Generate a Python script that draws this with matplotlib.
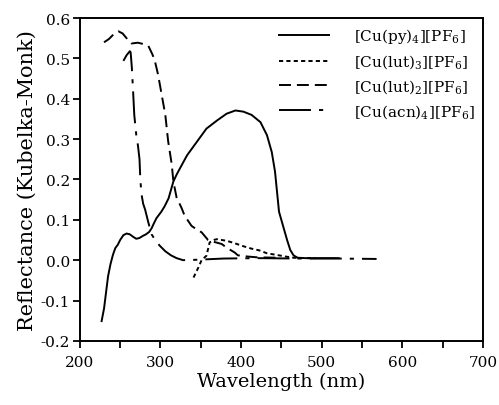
import matplotlib
matplotlib.use("Agg")
import matplotlib.pyplot as plt
from matplotlib.ticker import MultipleLocator, FormatStrFormatter

plt.rcParams['font.family'] = ['DejaVu Serif']
plt.rcParams['mathtext.fontset'] = 'dejavuserif'
plt.rcParams['axes.unicode_minus'] = False
plt.rcParams['lines.scale_dashes'] = False

# [Cu(py)4][PF6]
py_x = [227, 230, 235, 238, 241, 244, 247, 250, 254, 258, 262, 266, 270, 274, 278, 282,
        286, 289, 292, 295, 298, 301, 305, 310, 316, 320, 324, 333, 345, 357, 370, 382,
        393, 403, 413, 424, 432, 438, 442, 445, 447, 452, 457, 461, 465, 470, 480, 500, 521]
py_y = [-0.151, -0.12, -0.04, -0.01, 0.013, 0.03, 0.038, 0.05, 0.062, 0.066, 0.064, 0.058,
        0.053, 0.055, 0.06, 0.064, 0.07, 0.079, 0.092, 0.104, 0.112, 0.12, 0.133, 0.153,
        0.195, 0.212, 0.227, 0.26, 0.293, 0.326, 0.346, 0.363, 0.371, 0.368, 0.36, 0.342,
        0.31, 0.268, 0.22, 0.16, 0.12, 0.085, 0.05, 0.025, 0.012, 0.006, 0.005, 0.005, 0.005]

# [Cu(lut)3][PF6]
lut3_x = [341, 347, 351, 357, 361, 366, 370, 376, 382, 392, 402, 412, 423, 432, 444, 455, 465, 480, 492]
lut3_y = [-0.043, -0.018, 0.0, 0.011, 0.044, 0.05, 0.052, 0.05, 0.048, 0.042, 0.035, 0.029,
          0.024, 0.017, 0.013, 0.009, 0.006, 0.005, 0.005]

# [Cu(lut)2][PF6]
lut2_x = [230, 236, 242, 248, 253, 258, 264, 272, 278, 285, 290, 293, 297, 301.5, 306, 309.5,
          314, 316, 320, 326, 330, 338.5, 345, 351, 359, 367, 376, 382, 392, 396, 408, 420, 448]
lut2_y = [0.54, 0.548, 0.56, 0.567, 0.562, 0.55, 0.537, 0.539, 0.536, 0.531, 0.51, 0.494,
          0.46, 0.41, 0.36, 0.295, 0.237, 0.195, 0.155, 0.13, 0.11, 0.085, 0.076, 0.069,
          0.05, 0.045, 0.04, 0.031, 0.019, 0.012, 0.009, 0.007, 0.006]

# [Cu(acn)4][PF6]
acn_x = [254, 258, 262, 263, 264.5, 266, 267.5, 270, 272, 274, 275, 276.5, 278.5, 281, 285,
         289, 294, 299, 306, 313, 320, 328, 345, 378, 420, 470, 520, 568]
acn_y = [0.494, 0.508, 0.518, 0.515, 0.477, 0.42, 0.36, 0.31, 0.285, 0.25, 0.2, 0.163, 0.14,
         0.125, 0.093, 0.064, 0.048, 0.036, 0.022, 0.012, 0.005, 0.0, 0.001, 0.004, 0.005,
         0.004, 0.004, 0.003]

labels = [r'[Cu(py)$_4$][PF$_6$]', r'[Cu(lut)$_3$][PF$_6$]',
          r'[Cu(lut)$_2$][PF$_6$]', r'[Cu(acn)$_4$][PF$_6$]']

fig = plt.figure(figsize=(4.99, 4.06), dpi=100)
ax = fig.add_axes([0.160, 0.158, 0.808, 0.795])

lw = 1.4
ax.plot(py_x, py_y, color='black', lw=lw, label=labels[0])
ax.plot(lut3_x, lut3_y, color='black', lw=lw, dashes=(3, 2.3), label=labels[1])
ax.plot(lut2_x, lut2_y, color='black', lw=lw, dashes=(8.6, 4.3), label=labels[2])
ax.plot(acn_x, acn_y, color='black', lw=lw, dashes=(23, 5.8, 3, 5.8), label=labels[3])

ax.set_xlim(200, 700)
ax.set_ylim(-0.2, 0.6)
ax.xaxis.set_major_locator(MultipleLocator(100))
ax.xaxis.set_minor_locator(MultipleLocator(50))
ax.yaxis.set_major_locator(MultipleLocator(0.1))
ax.yaxis.set_major_formatter(FormatStrFormatter('%.1f'))
ax.tick_params(which='both', direction='out', length=5, width=1.3, labelsize=11,
               top=False, right=False)
ax.tick_params(axis='x', pad=5)
ax.tick_params(axis='y', pad=2)
for s in ax.spines.values():
    s.set_linewidth(1.4)

ax.set_xlabel('Wavelength (nm)', fontsize=14, labelpad=2)
ax.set_ylabel('Reflectance (Kubelka-Monk)', fontsize=15, labelpad=3)

leg = ax.legend(loc='upper right', frameon=False, fontsize=11, handlelength=3.3,
                labelspacing=0.46, handletextpad=1.6, borderaxespad=0.15,
                bbox_to_anchor=(1.0, 1.0))

fig.savefig('out.png', dpi=100)
